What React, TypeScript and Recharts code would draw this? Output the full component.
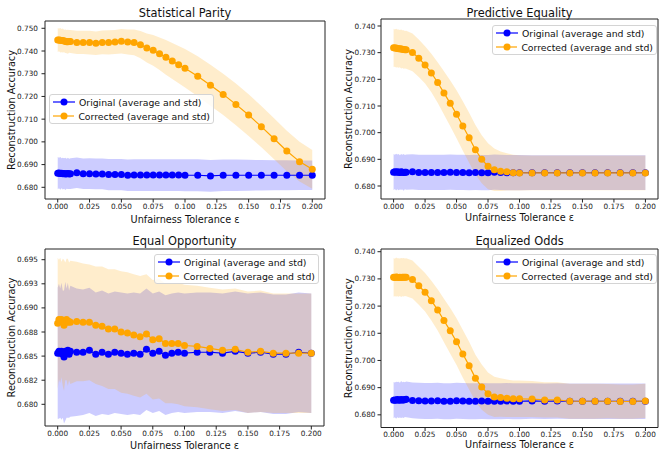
import React from 'react';
import { ComposedChart, Line, Area, XAxis, YAxis, Legend, Label } from 'recharts';

const FONT = "'DejaVu Sans', sans-serif";
const BLUE = '#0000ff';
const ORANGE = '#ffa500';
const AXIS = '#222222';

const X = [0, 0.001, 0.002, 0.003, 0.004, 0.005, 0.006, 0.007, 0.008, 0.009, 0.01,
  0.015, 0.02, 0.025, 0.03, 0.035, 0.04, 0.045, 0.05, 0.055, 0.06, 0.065, 0.07, 0.075, 0.08, 0.085, 0.09, 0.095, 0.1,
  0.11, 0.12, 0.13, 0.14, 0.15, 0.16, 0.17, 0.18, 0.19, 0.2];

const xTicks = [0, 0.025, 0.05, 0.075, 0.1, 0.125, 0.15, 0.175, 0.2];
const xTickLabels = ['0.000', '0.025', '0.050', '0.075', '0.100', '0.125', '0.150', '0.175', '0.200'];

const seriesNames = ['Original (average and std)', 'Corrected (average and std)'];

// ---------- Statistical Parity ----------
const spOrigMean = [0.6862, 0.6863, 0.6861, 0.6862, 0.6860, 0.6861, 0.6859, 0.6860, 0.6861, 0.6859, 0.6860,
  0.6864, 0.6860, 0.6860, 0.6859, 0.6859, 0.6856, 0.6856, 0.6856, 0.6853, 0.6854, 0.6854, 0.6854, 0.6854, 0.6854, 0.6854, 0.6854, 0.6854, 0.6853,
  0.6853, 0.6850, 0.6853, 0.6853, 0.6853, 0.6853, 0.6853, 0.6853, 0.6853, 0.6853];
const spOrigStd = [0.0071, 0.0067, 0.0072, 0.0066, 0.0070, 0.0067, 0.0071, 0.0066, 0.0069, 0.0067, 0.0068,
  0.0067, 0.0067, 0.0068, 0.0068, 0.0068, 0.0069, 0.0069, 0.0069, 0.0069, 0.0070, 0.0070, 0.0070, 0.0070, 0.0070, 0.0070, 0.0070, 0.0070, 0.0070,
  0.0070, 0.0070, 0.0069, 0.0069, 0.0068, 0.0067, 0.0066, 0.0066, 0.0065, 0.0065];
const spCorrMean = [0.7448, 0.7449, 0.7447, 0.7446, 0.7446, 0.7444, 0.7443, 0.7441, 0.7441, 0.7442, 0.7442,
  0.7438, 0.7438, 0.7437, 0.7434, 0.7438, 0.7438, 0.7440, 0.7443, 0.7440, 0.7438, 0.7428, 0.7413, 0.7403, 0.7388, 0.7372, 0.7356, 0.7340, 0.7324,
  0.7289, 0.7249, 0.7209, 0.7165, 0.7118, 0.7067, 0.7014, 0.6960, 0.6913, 0.6879];
const spCorrStd = [0.0052, 0.0050, 0.0054, 0.0051, 0.0053, 0.0050, 0.0052, 0.0051, 0.0053, 0.0050, 0.0051,
  0.0051, 0.0051, 0.0052, 0.0052, 0.0052, 0.0053, 0.0053, 0.0054, 0.0055, 0.0057, 0.0060, 0.0064, 0.0068, 0.0072, 0.0076, 0.0079, 0.0082, 0.0085,
  0.0088, 0.0090, 0.0091, 0.0092, 0.0092, 0.0091, 0.0090, 0.0089, 0.0087, 0.0085];
const spYTicks = [0.68, 0.69, 0.70, 0.71, 0.72, 0.73, 0.74, 0.75];
const spYLabels = ['0.680', '0.690', '0.700', '0.710', '0.720', '0.730', '0.740', '0.750'];

// ---------- Predictive Equality ----------
const peOrigMean = [0.6852, 0.6853, 0.6852, 0.6853, 0.6852, 0.6851, 0.6853, 0.6852, 0.6851, 0.6852, 0.6852,
  0.6853, 0.6851, 0.6851, 0.6851, 0.6851, 0.6851, 0.6852, 0.6851, 0.6851, 0.6850, 0.6851, 0.6850, 0.6850, 0.6852, 0.6851, 0.6850, 0.6850, 0.6850,
  0.6850, 0.6850, 0.6850, 0.6850, 0.6850, 0.6850, 0.6850, 0.6850, 0.6850, 0.6850];
const peOrigStd = [0.0068, 0.0064, 0.0069, 0.0065, 0.0068, 0.0064, 0.0067, 0.0065, 0.0069, 0.0064, 0.0066,
  0.0066, 0.0066, 0.0066, 0.0066, 0.0066, 0.0066, 0.0066, 0.0066, 0.0066, 0.0066, 0.0066, 0.0066, 0.0066, 0.0066, 0.0066, 0.0066, 0.0066, 0.0066,
  0.0065, 0.0065, 0.0065, 0.0065, 0.0065, 0.0065, 0.0065, 0.0065, 0.0065, 0.0065];
const peCorrMean = [0.7318, 0.7317, 0.7317, 0.7316, 0.7315, 0.7315, 0.7314, 0.7313, 0.7312, 0.7311, 0.7311,
  0.7301, 0.7279, 0.7254, 0.7224, 0.7188, 0.7149, 0.7110, 0.7069, 0.7025, 0.6981, 0.6936, 0.6900, 0.6874, 0.6861, 0.6855, 0.6853, 0.6850, 0.6849,
  0.6849, 0.6849, 0.6849, 0.6849, 0.6849, 0.6849, 0.6849, 0.6849, 0.6849, 0.6849];
const peCorrStd = [0.0072, 0.0070, 0.0073, 0.0071, 0.0072, 0.0070, 0.0073, 0.0071, 0.0072, 0.0070, 0.0071,
  0.0071, 0.0070, 0.0070, 0.0072, 0.0076, 0.0081, 0.0086, 0.0090, 0.0093, 0.0094, 0.0093, 0.0090, 0.0086, 0.0080, 0.0074, 0.0070, 0.0067, 0.0066,
  0.0065, 0.0065, 0.0065, 0.0065, 0.0065, 0.0065, 0.0065, 0.0065, 0.0065, 0.0065];
const peYTicks = [0.68, 0.69, 0.70, 0.71, 0.72, 0.73, 0.74];
const peYLabels = ['0.680', '0.690', '0.700', '0.710', '0.720', '0.730', '0.740'];

// ---------- Equal Opportunity ----------
const eoOrigMean = [0.6853, 0.6855, 0.6853, 0.6855, 0.6852, 0.6849, 0.6855, 0.6853, 0.6856, 0.6852, 0.6855,
  0.6854, 0.6854, 0.6856, 0.6852, 0.6854, 0.6852, 0.6854, 0.6853, 0.6852, 0.6853, 0.6852, 0.6857, 0.6853, 0.6855, 0.6851, 0.6853, 0.6854, 0.6853,
  0.6854, 0.6854, 0.6853, 0.6855, 0.6853, 0.6854, 0.6852, 0.6852, 0.6854, 0.6853];
const eoOrigStd = [0.0068, 0.0070, 0.0067, 0.0071, 0.0066, 0.0069, 0.0072, 0.0067, 0.0070, 0.0066, 0.0068,
  0.0066, 0.0065, 0.0065, 0.0064, 0.0064, 0.0063, 0.0063, 0.0063, 0.0063, 0.0063, 0.0063, 0.0063, 0.0062, 0.0062, 0.0062, 0.0062, 0.0062, 0.0062,
  0.0062, 0.0062, 0.0062, 0.0062, 0.0062, 0.0062, 0.0062, 0.0062, 0.0062, 0.0062];
const eoCorrMean = [0.6884, 0.6888, 0.6887, 0.6888, 0.6885, 0.6882, 0.6886, 0.6888, 0.6885, 0.6886, 0.6885,
  0.6886, 0.6885, 0.6885, 0.6882, 0.6881, 0.6878, 0.6878, 0.6875, 0.6874, 0.6872, 0.6870, 0.6873, 0.6867, 0.6868, 0.6863, 0.6863, 0.6863, 0.6861,
  0.6860, 0.6858, 0.6856, 0.6857, 0.6854, 0.6855, 0.6853, 0.6853, 0.6853, 0.6853];
const eoCorrStd = [0.0068, 0.0062, 0.0065, 0.0060, 0.0066, 0.0068, 0.0061, 0.0063, 0.0066, 0.0061, 0.0064,
  0.0062, 0.0061, 0.0060, 0.0061, 0.0062, 0.0062, 0.0062, 0.0063, 0.0063, 0.0063, 0.0063, 0.0062, 0.0062, 0.0062, 0.0062, 0.0062, 0.0063, 0.0063,
  0.0063, 0.0063, 0.0063, 0.0063, 0.0063, 0.0063, 0.0062, 0.0062, 0.0062, 0.0062];
const eoYTicks = [0.68, 0.6825, 0.685, 0.6875, 0.69, 0.6925, 0.695];
const eoYLabels = ['0.680', '0.682', '0.685', '0.688', '0.690', '0.693', '0.695'];

// ---------- Equalized Odds ----------
const eqOrigMean = [0.6854, 0.6855, 0.6854, 0.6856, 0.6855, 0.6854, 0.6856, 0.6855, 0.6855, 0.6856, 0.6857,
  0.6853, 0.6852, 0.6851, 0.6851, 0.6852, 0.6850, 0.6850, 0.6852, 0.6851, 0.6850, 0.6850, 0.6851, 0.6850, 0.6850, 0.6850, 0.6851, 0.6850, 0.6850,
  0.6851, 0.6850, 0.6851, 0.6850, 0.6850, 0.6850, 0.6850, 0.6850, 0.6850, 0.6850];
const eqOrigStd = [0.0067, 0.0064, 0.0068, 0.0065, 0.0067, 0.0064, 0.0068, 0.0065, 0.0067, 0.0064, 0.0066,
  0.0066, 0.0066, 0.0066, 0.0066, 0.0066, 0.0066, 0.0066, 0.0066, 0.0066, 0.0066, 0.0066, 0.0066, 0.0066, 0.0066, 0.0066, 0.0066, 0.0066, 0.0066,
  0.0065, 0.0065, 0.0065, 0.0065, 0.0065, 0.0065, 0.0065, 0.0065, 0.0065, 0.0065];
const eqCorrMean = [0.7306, 0.7305, 0.7307, 0.7306, 0.7305, 0.7306, 0.7305, 0.7306, 0.7306, 0.7306, 0.7306,
  0.7298, 0.7275, 0.7251, 0.7220, 0.7186, 0.7147, 0.7109, 0.7069, 0.7024, 0.6981, 0.6935, 0.6902, 0.6878, 0.6866, 0.6864, 0.6861, 0.6859, 0.6859,
  0.6858, 0.6855, 0.6855, 0.6850, 0.6850, 0.6850, 0.6850, 0.6849, 0.6849, 0.6851];
const eqCorrStd = [0.0071, 0.0069, 0.0072, 0.0070, 0.0071, 0.0069, 0.0072, 0.0070, 0.0071, 0.0069, 0.0070,
  0.0070, 0.0070, 0.0071, 0.0073, 0.0076, 0.0080, 0.0084, 0.0086, 0.0088, 0.0088, 0.0086, 0.0083, 0.0078, 0.0074, 0.0071, 0.0069, 0.0067, 0.0067,
  0.0066, 0.0065, 0.0065, 0.0064, 0.0064, 0.0064, 0.0063, 0.0063, 0.0063, 0.0063];
const eqYTicks = [0.68, 0.69, 0.70, 0.71, 0.72, 0.73, 0.74];
const eqYLabels = ['0.680', '0.690', '0.700', '0.710', '0.720', '0.730', '0.740'];

function buildRows(om: number[], os: number[], cm: number[], cs: number[]) {
  return X.map((x, i) => ({
    x,
    om: om[i],
    ob: [om[i] - os[i], om[i] + os[i]],
    cm: cm[i],
    cb: [cm[i] - cs[i], cm[i] + cs[i]],
  }));
}

const LegendBox = () => (
  <div
    style={{
      width: 165,
      boxSizing: 'border-box',
      border: '1px solid #d4d4d4',
      borderRadius: 3,
      background: 'rgba(255,255,255,0.8)',
      padding: '0 3px',
      fontFamily: FONT,
      fontSize: 9.3,
      color: '#111',
    }}
  >
    {seriesNames.map((name, i) => {
      const c = i === 0 ? BLUE : ORANGE;
      return (
        <div key={name} style={{ display: 'flex', alignItems: 'center', height: 14, whiteSpace: 'nowrap' }}>
          <svg width={22} height={8} style={{ display: 'block' }}>
            <line x1={0} y1={4} x2={22} y2={4} stroke={c} strokeWidth={1.2} />
            <circle cx={11} cy={4} r={3.5} fill={c} />
          </svg>
          <span style={{ marginLeft: 4 }}>{name}</span>
        </div>
      );
    })}
  </div>
);

type PanelProps = {
  title: string;
  om: number[]; os: number[]; cm: number[]; cs: number[];
  yDomain: [number, number];
  yTicks: number[]; yLabels: string[];
  left: number; top: number; width: number; height: number;
  mTop: number; mRight: number; yWidth: number; xHeight: number;
  yLabelOffset: number; xLabelOffset: number; titleOffset: number;
  legendLeft: number; legendTop: number;
  yTickMargin: number;
};

function Panel(p: PanelProps) {
  const rows = buildRows(p.om, p.os, p.cm, p.cs);
  const fmtX = (v: number) => {
    const k = xTicks.indexOf(v);
    return k >= 0 ? xTickLabels[k] : v.toFixed(3);
  };
  const fmtY = (v: number) => {
    const k = p.yTicks.findIndex((t) => Math.abs(t - v) < 1e-9);
    return k >= 0 ? p.yLabels[k] : v.toFixed(3);
  };
  const tickStyle = { fontSize: 7.3, fill: '#222', fontFamily: FONT };
  return (
    <div style={{ position: 'absolute', left: p.left, top: p.top }}>
      <ComposedChart
        width={p.width}
        height={p.height}
        data={rows}
        margin={{ top: p.mTop - 1, right: p.mRight - 1, bottom: 0, left: 0 }}
      >
        <XAxis
          dataKey="x"
          type="number"
          domain={[-0.01, 0.21]}
          allowDataOverflow
          ticks={xTicks}
          tickFormatter={fmtX}
          height={p.xHeight}
          tickSize={3.5}
          tickMargin={1}
          tick={tickStyle}
          axisLine={{ stroke: AXIS, strokeWidth: 1 }}
          tickLine={{ stroke: AXIS }}
        >
          <Label value="Unfairness Tolerance ε" position="insideBottom" offset={p.xLabelOffset}
            fontSize={9.7} fill="#111" fontFamily={FONT} />
        </XAxis>
        <XAxis
          xAxisId="top"
          dataKey="x"
          type="number"
          orientation="top"
          domain={[-0.01, 0.21]}
          allowDataOverflow
          height={1}
          tick={false}
          tickLine={false}
          axisLine={{ stroke: AXIS, strokeWidth: 1 }}
        >
          <Label value={p.title} position="top" offset={p.titleOffset - 1}
            fontSize={11.4} fill="#111" fontFamily={FONT} />
        </XAxis>
        <YAxis
          type="number"
          domain={p.yDomain}
          allowDataOverflow
          ticks={p.yTicks}
          tickFormatter={fmtY}
          width={p.yWidth}
          tickSize={3.5}
          tickMargin={p.yTickMargin}
          tick={tickStyle}
          axisLine={{ stroke: AXIS, strokeWidth: 1 }}
          tickLine={{ stroke: AXIS }}
        >
          <Label value="Reconstruction Accuracy" angle={-90} position="insideLeft" offset={p.yLabelOffset}
            fontSize={9.7} fill="#111" fontFamily={FONT} style={{ textAnchor: 'middle' }} />
        </YAxis>
        <YAxis
          yAxisId="r"
          orientation="right"
          type="number"
          domain={p.yDomain}
          allowDataOverflow
          width={1}
          tick={false}
          tickLine={false}
          axisLine={{ stroke: AXIS, strokeWidth: 1 }}
        />
        <Legend
          layout="horizontal"
          align="center"
          verticalAlign="middle"
          content={<LegendBox />}
          wrapperStyle={{ left: p.legendLeft, top: p.legendTop, width: 165 }}
        />
        <Area type="linear" dataKey="ob" fill={BLUE} fillOpacity={0.2} stroke="none"
          isAnimationActive={false} activeDot={false} legendType="none" />
        <Line type="linear" dataKey="om" stroke={BLUE} strokeWidth={1.2}
          dot={{ r: 3.5, fill: BLUE, stroke: 'none' }} activeDot={false} isAnimationActive={false} />
        <Area type="linear" dataKey="cb" fill={ORANGE} fillOpacity={0.2} stroke="none"
          isAnimationActive={false} activeDot={false} legendType="none" />
        <Line type="linear" dataKey="cm" stroke={ORANGE} strokeWidth={1.2}
          dot={{ r: 3.5, fill: ORANGE, stroke: 'none' }} activeDot={false} isAnimationActive={false} />
      </ComposedChart>
    </div>
  );
}

export default function App() {
  return (
    <div style={{ position: 'absolute', left: 0, top: 0, width: 659, height: 451, background: '#fff', overflow: 'hidden' }}>
      <Panel
        title="Statistical Parity"
        om={spOrigMean} os={spOrigStd} cm={spCorrMean} cs={spCorrStd}
        yDomain={[0.67485, 0.75321]} yTicks={spYTicks} yLabels={spYLabels}
        left={0} top={0} width={330} height={225}
        mTop={21} mRight={5} yWidth={45} xHeight={26}
        yLabelOffset={12} xLabelOffset={2.5} titleOffset={4.5}
        legendLeft={49} legendTop={94} yTickMargin={3.5}
      />
      <Panel
        title="Predictive Equality"
        om={peOrigMean} os={peOrigStd} cm={peCorrMean} cs={peCorrStd}
        yDomain={[0.675125, 0.74262]} yTicks={peYTicks} yLabels={peYLabels}
        left={330} top={0} width={329} height={225}
        mTop={19} mRight={1} yWidth={51} xHeight={26}
        yLabelOffset={19} xLabelOffset={4.5} titleOffset={2.5}
        legendLeft={162} legendTop={25} yTickMargin={2}
      />
      <Panel
        title="Equal Opportunity"
        om={eoOrigMean} os={eoOrigStd} cm={eoCorrMean} cs={eoCorrStd}
        yDomain={[0.67775, 0.69611]} yTicks={eoYTicks} yLabels={eoYLabels}
        left={0} top={225} width={330} height={226}
        mTop={24} mRight={6} yWidth={45} xHeight={25}
        yLabelOffset={12} xLabelOffset={2.5} titleOffset={4.1}
        legendLeft={154} legendTop={29} yTickMargin={3.5}
      />
      <Panel
        title="Equalized Odds"
        om={eqOrigMean} os={eqOrigStd} cm={eqCorrMean} cs={eqCorrStd}
        yDomain={[0.67534, 0.7410]} yTicks={eqYTicks} yLabels={eqYLabels}
        left={330} top={225} width={329} height={226}
        mTop={24} mRight={1} yWidth={51} xHeight={23.5}
        yLabelOffset={19} xLabelOffset={3.5} titleOffset={4.1}
        legendLeft={162} legendTop={29} yTickMargin={2}
      />
    </div>
  );
}
